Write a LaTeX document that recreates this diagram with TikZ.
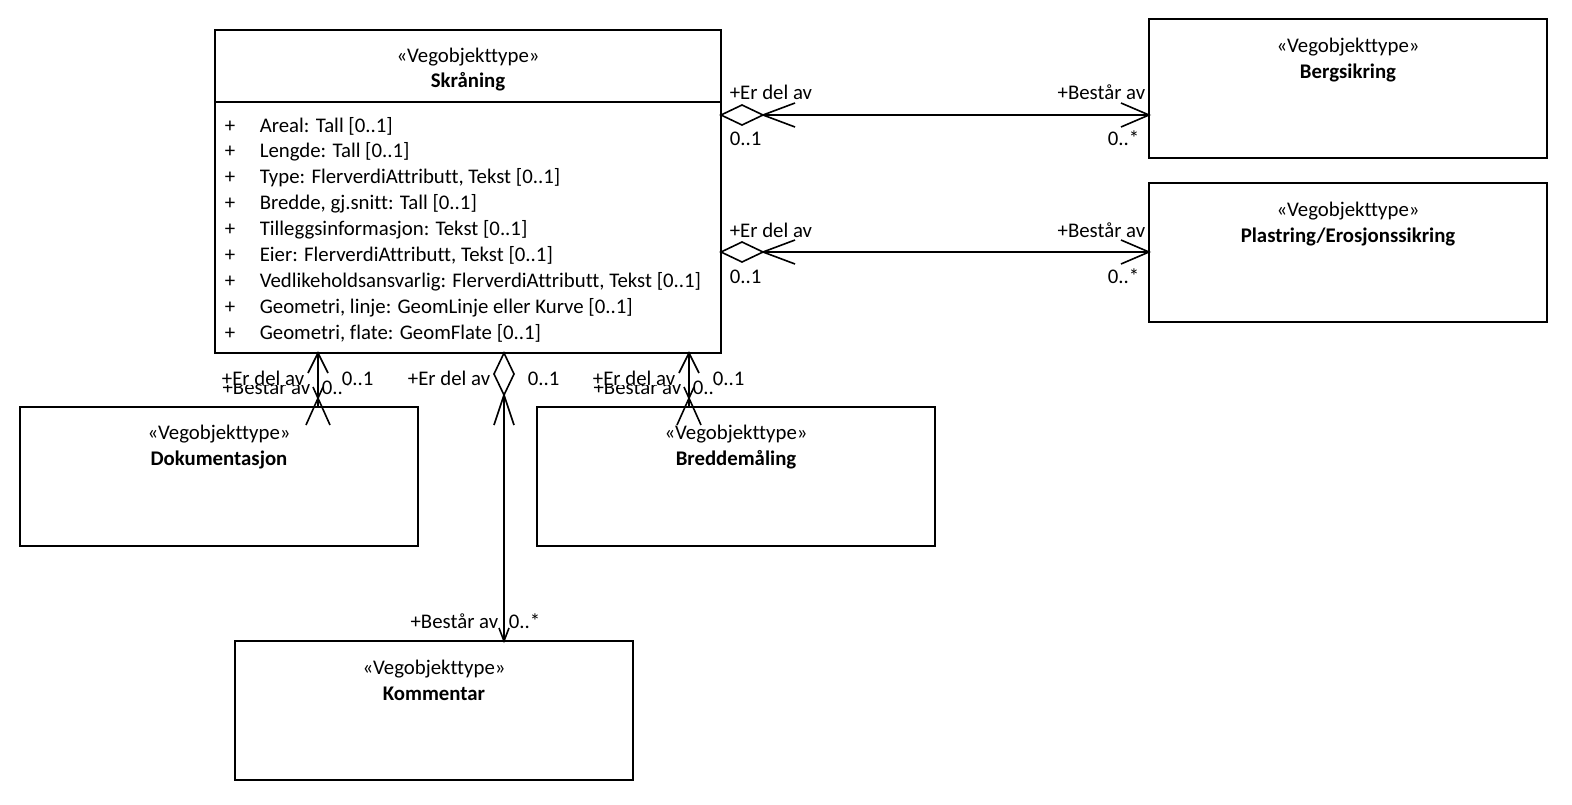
\documentclass[tikz,border=0pt]{standalone}
\usepackage{fontspec}
\setmainfont[Ligatures=NoCommon]{Carlito}
\begin{document}
\begin{tikzpicture}[x=1pt,y=-1pt,line width=1.6pt,
  cls/.style={draw,rectangle,anchor=north west,inner sep=0pt,outer sep=0pt,
    minimum width=398pt,minimum height=139pt},
  txt/.style={font=\fontsize{20.8}{24}\selectfont,inner sep=0pt,anchor=base},
  bold/.style={txt,font=\fontsize{20.8}{24}\selectfont\bfseries},
  lbl/.style={txt},
  lblw/.style={txt,fill=white,text depth=0pt}]
\useasboundingbox (0,0) rectangle (1572,804);

% ---- classes ----
\node[cls,minimum width=506pt,minimum height=323pt] (skr) at (215,30) {};
\draw (215,102) -- (721,102);
\node[txt] (skr-st) at (468,62) {«Vegobjekttype»};
\node[bold] (skr-nm) at (468,87) {Skråning};
\foreach \t [count=\i] in {
  {Areal: Tall [0..1]},
  {Lengde: Tall [0..1]},
  {Type: FlerverdiAttributt, Tekst [0..1]},
  {Bredde, gj.snitt: Tall [0..1]},
  {Tilleggsinformasjon: Tekst [0..1]},
  {Eier: FlerverdiAttributt, Tekst [0..1]},
  {Vedlikeholdsansvarlig: FlerverdiAttributt, Tekst [0..1]},
  {Geometri, linje: GeomLinje eller Kurve [0..1]},
  {Geometri, flate: GeomFlate [0..1]}} {
  \node[txt,anchor=base] (vis\i) at (230,{132+25.9*(\i-1)}) {+};
  \node[txt,anchor=base west] (att\i) at (259,{132+25.9*(\i-1)}) {\t};
}

\node[cls] (berg) at (1149,19) {};
\node[txt] (berg-st) at (1348,52) {«Vegobjekttype»};
\node[bold] (berg-nm) at (1348,78) {Bergsikring};

\node[cls] (plas) at (1149,183) {};
\node[txt] (plas-st) at (1348,216) {«Vegobjekttype»};
\node[bold] (plas-nm) at (1348,242) {Plastring/Erosjonssikring};

\node[cls] (dok) at (20,407) {};
\node[txt] (dok-st) at (219,439) {«Vegobjekttype»};
\node[bold] (dok-nm) at (219,465) {Dokumentasjon};

\node[cls] (bre) at (537,407) {};
\node[txt] (bre-st) at (736,439) {«Vegobjekttype»};
\node[bold] (bre-nm) at (736,465) {Breddemåling};

\node[cls] (kom) at (235,641) {};
\node[txt] (kom-st) at (434,674) {«Vegobjekttype»};
\node[bold] (kom-nm) at (434,700) {Kommentar};

% ---- connector end points ----
\path (berg.north west) ++(0,96) coordinate (b1);
\path (plas.north west) ++(0,69) coordinate (p1);
\path (dok.north west) ++(298,0) coordinate (d1);
\path (bre.north west) ++(152,0) coordinate (r1);
\path (kom.north west) ++(269,0) coordinate (k1);
\coordinate (sb) at (skr.east |- b1);
\coordinate (sp) at (skr.east |- p1);
\coordinate (sd) at (skr.south -| d1);
\coordinate (sr) at (skr.south -| r1);
\coordinate (sk) at (skr.south -| k1);

% ---- horizontal aggregations ----
\foreach \s/\e in {sb/b1,sp/p1} {
  \draw (\s) -- (\e);
  \draw[fill=white] (\s) -- ++(21,-10) -- ++(21,10) -- ++(-21,10) -- cycle;
  \draw (\s) ++(74,-12) -- ++(-32,12) -- ++(32,12);
  \draw (\e) ++(-28,-12) -- ++(28,12) -- ++(-28,12);
}
\node[lbl,anchor=base west] (lb1) at (729,99) {+Er del av};
\node[lbl,anchor=base west] (lb2) at (729,145) {0..1};
\node[lbl,anchor=base east] (lb3) at (1146,99) {+Består av};
\node[lbl,anchor=base east] (lb4) at (1140,145) {0..*};
\node[lbl,anchor=base west] (lp1) at (729,237) {+Er del av};
\node[lbl,anchor=base west] (lp2) at (729,283) {0..1};
\node[lbl,anchor=base east] (lp3) at (1146,237) {+Består av};
\node[lbl,anchor=base east] (lp4) at (1140,283) {0..*};

% ---- Kommentar aggregation ----
\draw (sk) -- (k1);
\draw[fill=white] (sk) -- ++(10,21) -- ++(-10,21) -- ++(-10,-21) -- cycle;
\draw (sk) ++(-10,72) -- ++(10,-30) -- ++(10,30);
\draw (k1) ++(-5,-13) -- ++(5,13) -- ++(5,-13);
\node[lbl,anchor=base east] (lk1) at (491,385) {+Er del av};
\node[lbl,anchor=base west] (lk2) at (527,385) {0..1};
\node[lbl,anchor=base east] (lk3) at (499,628) {+Består av};
\node[lbl,anchor=base west] (lk4) at (508,628) {0..*};

% ---- short associations (Dokumentasjon, Breddemåling) ----
\foreach \s/\e in {sd/d1,sr/r1} {
  \draw (\s) -- (\e);
  \draw (\s) ++(-10,20) -- ++(10,-20) -- ++(10,20);
  \draw (\e) ++(-12,18) -- ++(17,-38);
  \draw (\e) ++(12,18) -- ++(-17,-38);
}
\node[lbl,anchor=base east] (ld3) at (311,394) {+Består av};
\node[lbl,anchor=base west] (ld4) at (321,394) {0..*};
\node[lblw,anchor=base east] (ld1) at (305,385) {+Er del av};
\node[lblw,anchor=base west] (ld2) at (341,385) {0..1};
\node[lbl,anchor=base east] (lr3) at (682,394) {+Består av};
\node[lbl,anchor=base west] (lr4) at (692,394) {0..*};
\node[lblw,anchor=base east] (lr1) at (676,385) {+Er del av};
\node[lblw,anchor=base west] (lr2) at (712,385) {0..1};
\end{tikzpicture}
\end{document}
